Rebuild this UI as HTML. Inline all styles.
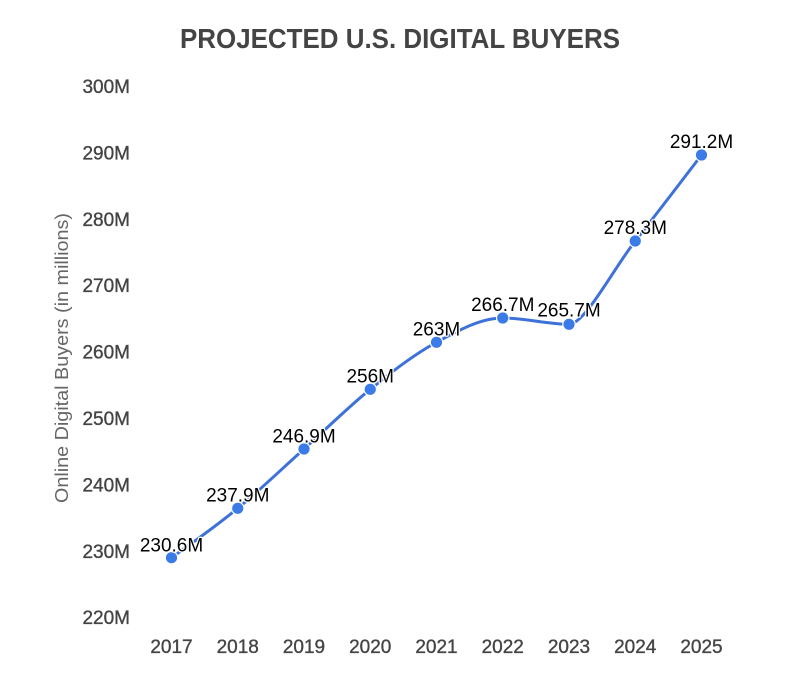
<!DOCTYPE html>
<html>
<head>
<meta charset="utf-8">
<style>
  html, body { margin:0; padding:0; background:#ffffff; }
  body { width:800px; height:673px; overflow:hidden; }
  svg { display:block; font-family:"Liberation Sans", Arial, sans-serif; }
</style>
</head>
<body>
<svg width="800" height="673" viewBox="0 0 800 673" xmlns="http://www.w3.org/2000/svg">
  <rect x="0" y="0" width="800" height="673" fill="#ffffff"/>

  <!-- Title -->
  <text x="400" y="48" text-anchor="middle" font-size="28" font-weight="bold" fill="#444444" textLength="440" lengthAdjust="spacingAndGlyphs">PROJECTED U.S. DIGITAL BUYERS</text>

  <!-- Y axis title -->
  <text transform="translate(68,358) rotate(-90)" text-anchor="middle" font-size="18" fill="#666666" textLength="290" lengthAdjust="spacingAndGlyphs">Online Digital Buyers (in millions)</text>

  <!-- Y tick labels -->
  <g font-size="19" fill="#444444" stroke="#444444" stroke-width="0.35" text-anchor="end">
    <text x="130" y="93">300M</text>
    <text x="130" y="159.4">290M</text>
    <text x="130" y="225.8">280M</text>
    <text x="130" y="292.2">270M</text>
    <text x="130" y="358.6">260M</text>
    <text x="130" y="425">250M</text>
    <text x="130" y="491.4">240M</text>
    <text x="130" y="557.8">230M</text>
    <text x="130" y="624.2">220M</text>
  </g>

  <!-- X tick labels -->
  <g font-size="19" fill="#444444" stroke="#444444" stroke-width="0.35" text-anchor="middle">
    <text x="171.5" y="653">2017</text>
    <text x="237.75" y="653">2018</text>
    <text x="304" y="653">2019</text>
    <text x="370.25" y="653">2020</text>
    <text x="436.5" y="653">2021</text>
    <text x="502.75" y="653">2022</text>
    <text x="569" y="653">2023</text>
    <text x="635.25" y="653">2024</text>
    <text x="701.5" y="653">2025</text>
  </g>

  <!-- Line -->
  <path fill="none" stroke="#3e72d9" stroke-width="3" stroke-linecap="round" stroke-linejoin="round"
    d="M171.5,557.7
       C193.58,542.06 215.67,526.42 237.75,508.3
       C259.83,490.18 281.92,468.83 304,449
       C326.08,429.17 348.17,407.08 370.25,389.3
       C392.33,371.52 414.42,354.18 436.5,342.3
       C458.58,330.42 480.67,318 502.75,318
       C524.83,318 546.92,324.3 569,324.3
       C585,324.3 613.17,269.05 635.25,241
       C657.33,212.95 679.42,183.98 701.5,155"/>

  <!-- Points -->
  <g fill="#3b7be8" stroke="#ffffff" stroke-width="1.2">
    <circle cx="171.5" cy="557.7" r="6.2"/>
    <circle cx="237.75" cy="508.3" r="6.2"/>
    <circle cx="304" cy="449" r="6.2"/>
    <circle cx="370.25" cy="389.3" r="6.2"/>
    <circle cx="436.5" cy="342.3" r="6.2"/>
    <circle cx="502.75" cy="318" r="6.2"/>
    <circle cx="569" cy="324.3" r="6.2"/>
    <circle cx="635.25" cy="241" r="6.2"/>
    <circle cx="701.5" cy="155" r="6.2"/>
  </g>

  <!-- Data labels -->
  <g font-size="19" fill="#000000" text-anchor="middle" stroke="#ffffff" stroke-width="2.5" paint-order="stroke" stroke-linejoin="round">
    <text x="171.5" y="551.5">230.6M</text>
    <text x="237.75" y="501.5">237.9M</text>
    <text x="304" y="442.5">246.9M</text>
    <text x="370.25" y="382.5">256M</text>
    <text x="436.5" y="335.5">263M</text>
    <text x="502.75" y="311">266.7M</text>
    <text x="569" y="316.5">265.7M</text>
    <text x="635.25" y="234">278.3M</text>
    <text x="701.5" y="148">291.2M</text>
  </g>
</svg>
</body>
</html>
